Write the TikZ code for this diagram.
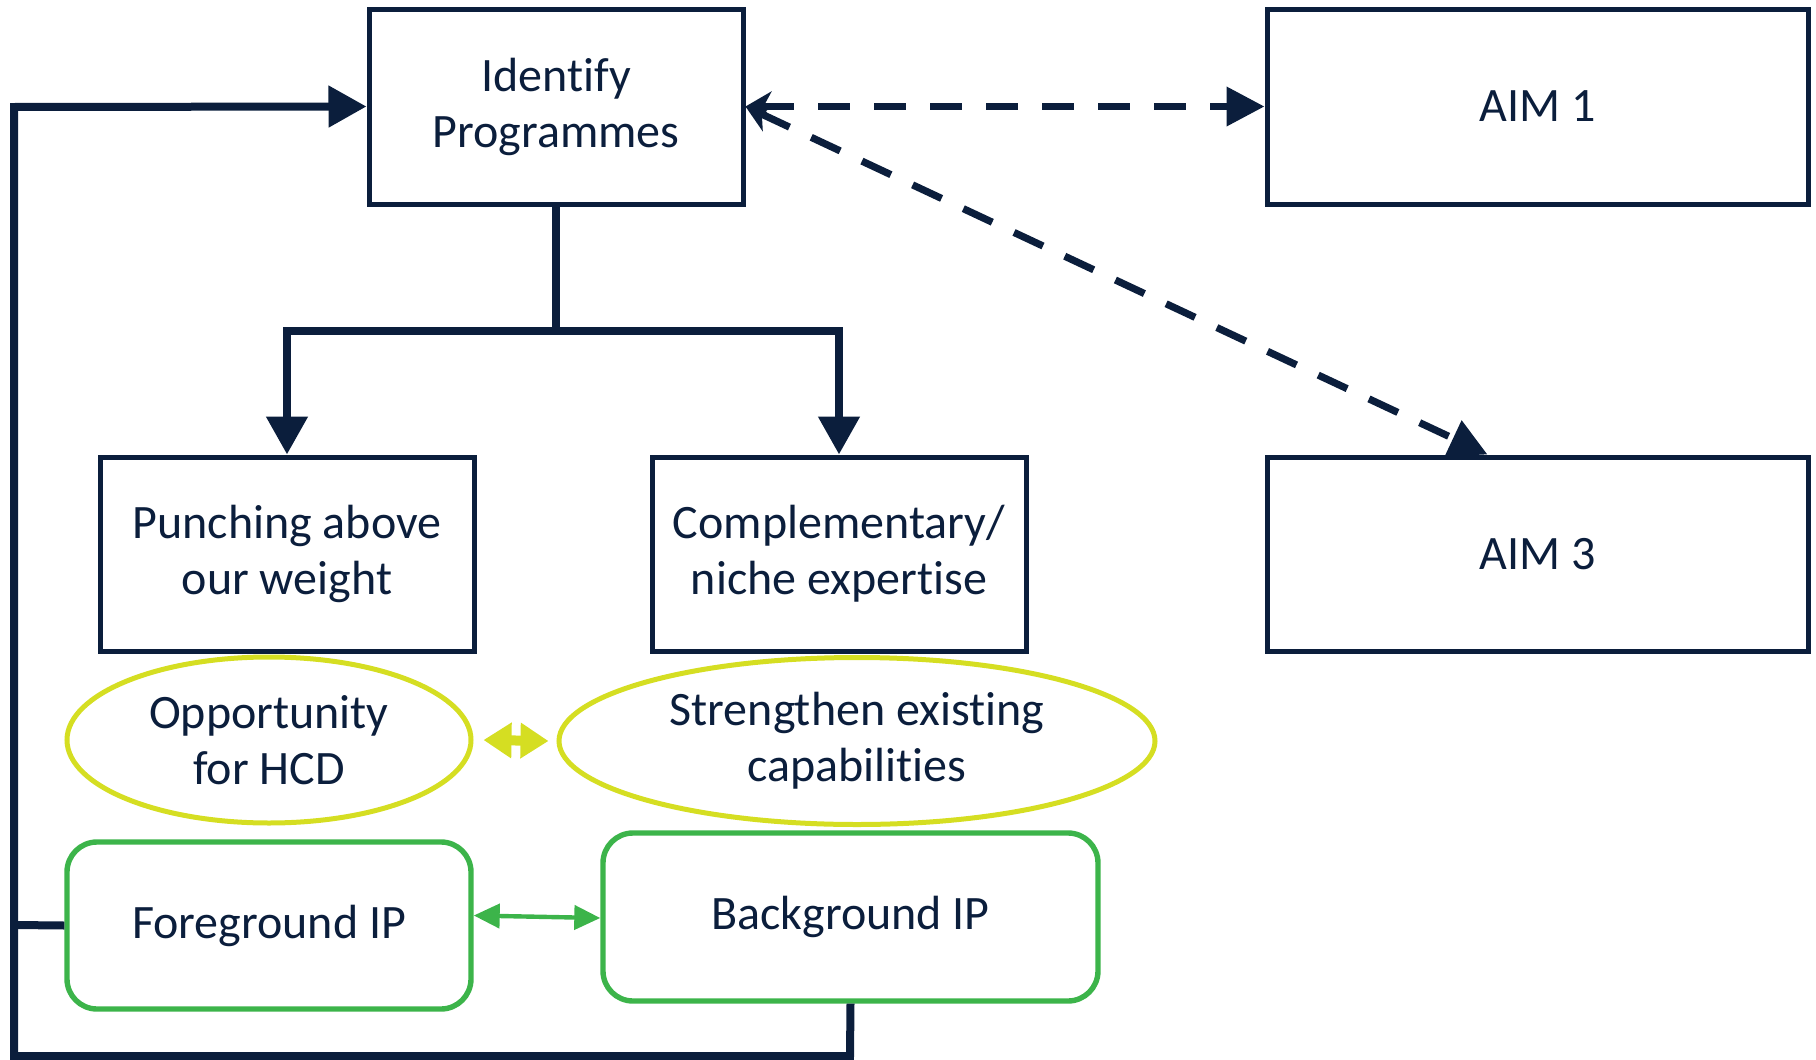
\documentclass[tikz,border=0pt]{standalone}
\usepackage{fontspec}
\setmainfont{Carlito}[Ligatures={NoCommon}]
\usetikzlibrary{arrows.meta,shapes.geometric}
\definecolor{navy}{HTML}{0B1E3C}
\definecolor{ygreen}{HTML}{D5DE22}
\definecolor{igreen}{HTML}{3CB44A}
\tikzset{
  txt/.style={font=\fontsize{24pt}{28pt}\selectfont, text=navy, align=center},
  box/.style={txt, draw=navy, line width=2.5pt, rectangle, inner sep=0pt},
  oval/.style={txt, draw=ygreen, line width=2.5pt, ellipse, inner sep=0pt},
  ipbox/.style={txt, draw=igreen, line width=2.7pt, rectangle, rounded corners=15pt, inner sep=0pt},
  conn/.style={draw=navy, line width=4pt},
  tip/.style={-{Triangle[length=19pt,width=20pt]}},
  dashconn/.style={draw=navy, line width=3.6pt, dash pattern=on 16pt off 12pt,
     {Stealth[length=13pt,width=15pt,inset=4pt]}-{Triangle[length=19pt,width=19pt]}}
}
\begin{document}
\begin{tikzpicture}[x=0.5pt,y=-0.5pt]
\useasboundingbox (0,0) rectangle (1816,1060);
\node[box, minimum width=187pt, minimum height=97.5pt] (ident) at (556,106.5) {Identify\\Programmes};
\node[box, minimum width=270.5pt, minimum height=97.5pt] (aim1) at (1537.5,106.5) {AIM 1};
\node[box, minimum width=270.5pt, minimum height=97pt] (aim3) at (1537.5,554) {AIM 3};
\node[box, minimum width=187pt, minimum height=97pt] (punch) at (287,554) {Punching above\\our weight};
\node[box, minimum width=187pt, minimum height=97pt] (comp) at (839,554) {Complementary/\\niche expertise};
\node[oval, minimum width=202pt, minimum height=83pt] (opp) at (269,740) {Opportunity\\for HCD};
\node[oval, minimum width=298pt, minimum height=83.5pt] (str) at (857,741) {Strengthen existing\\capabilities};
\node[ipbox, minimum width=202pt, minimum height=83.5pt] (fore) at (269,925.5) {Foreground IP};
\node[ipbox, minimum width=247.5pt, minimum height=84pt] (back) at (850.5,917) {Background IP};

% tree from Identify
\coordinate (J) at (556,331);
\draw[conn, line cap=rect] (ident.south) -- (J);
\draw[conn, tip] (J) -| (punch.north);
\draw[conn, tip] (J) -| (comp.north);

% dashed links to aims
\draw[dashconn] (ident.east) -- (aim1.west);
\draw[dashconn] (ident.east) -- ([xshift=111.5pt]aim3.north west);

% yellow double arrow
\draw[draw=ygreen, line width=5pt, {Triangle[length=14pt,width=17pt]}-{Triangle[length=14pt,width=17pt]}] (opp.east) ++(5pt,0) -- ([xshift=-4pt]str.west);

% green double arrow
\draw[draw=igreen, line width=2.2pt, {Triangle[length=13pt,width=12pt]}-{Triangle[length=13pt,width=12pt]}] ([yshift=5pt]fore.east) -- ([yshift=-0.5pt]back.west);

% feedback loop
\coordinate (L1) at (850,1056);
\coordinate (L2) at (14,1056);
\coordinate (L3) at (14,107);
\coordinate (LF) at (14,925);
\draw[conn, line join=miter, tip] (back.south) -- (L1) -- (L2) -- (L3) -- (ident.west);
\draw[conn] (fore.west) -- (LF);
\end{tikzpicture}
\end{document}
